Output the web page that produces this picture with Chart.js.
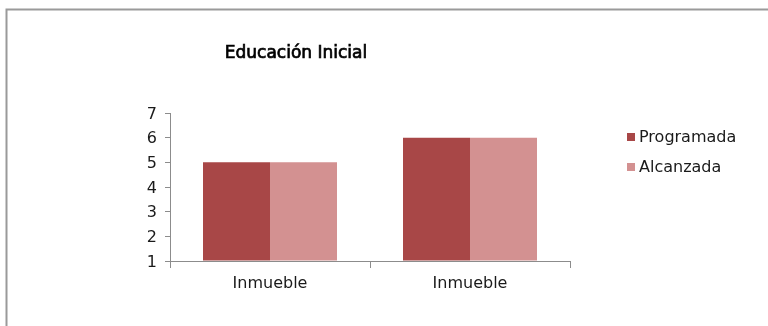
<!DOCTYPE html>
<html>
<head>
<meta charset="utf-8">
<script src="https://cdn.jsdelivr.net/npm/chart.js@4/dist/chart.umd.min.js"></script>
<style>
  html, body { margin: 0; padding: 0; background: #fff; }
  #wrap { width: 768px; height: 326px; }
</style>
</head>
<body>
<div id="wrap"><canvas id="myChart" width="768" height="326"></canvas></div>
<script>
// Data
const chartTitle = "Educación Inicial";
const categories = ["Inmueble", "Inmueble"];
const programada = [5, 6];
const alcanzada = [5, 6];
const yTicks = [1, 2, 3, 4, 5, 6, 7];

const seriesNames = ["Programada", "Alcanzada"];
const seriesColors = ["#A84747", "#D39191"];

const textColor = "#1a1a1a";
const axisColor = "#8c8c8c";
const font = "DejaVu Sans";

// frame, title and legend drawn by hand
const decorPlugin = {
  id: "decor",
  beforeDraw(chart) {
    const c = chart.ctx;
    c.save();
    c.strokeStyle = "#9a9a9a";
    c.lineWidth = 2;
    c.beginPath();
    c.moveTo(768, 9.5);
    c.lineTo(6.5, 9.5);
    c.lineTo(6.5, 326);
    c.stroke();
    c.restore();
  },
  afterDraw(chart) {
    const c = chart.ctx;
    c.save();
    // title
    c.fillStyle = "#000";
    c.strokeStyle = "#000";
    c.lineWidth = 0.7;
    c.font = "17px '" + font + "'";
    c.textAlign = "center";
    c.textBaseline = "middle";
    c.fillText(chartTitle, 296, 54);
    c.strokeText(chartTitle, 296, 54);

    // legend
    c.font = "16px '" + font + "'";
    c.textAlign = "left";
    chart.data.datasets.forEach((ds, i) => {
      const y = 137 + i * 30;
      c.fillStyle = ds.backgroundColor;
      c.fillRect(627, y - 4, 8, 8);
      c.fillStyle = textColor;
      c.fillText(ds.label, 639, y + 1);
    });
    c.restore();
  },
};

const ctx = document.getElementById("myChart").getContext("2d");
new Chart(ctx, {
  type: "bar",
  data: {
    labels: categories,
    datasets: [
      { label: seriesNames[0], data: programada, backgroundColor: seriesColors[0] },
      { label: seriesNames[1], data: alcanzada, backgroundColor: seriesColors[1] },
    ],
  },
  options: {
    responsive: false,
    animation: false,
    categoryPercentage: 0.67,
    barPercentage: 1.0,
    base: 1,
    layout: { padding: { left: 0, top: 113, right: 198, bottom: 0 } },
    plugins: {
      legend: { display: false },
      title: { display: false },
      tooltip: { enabled: false },
    },
    scales: {
      x: {
        offset: true,
        afterFit(scale) { scale.height = 65; },
        grid: {
          offset: true,
          drawOnChartArea: false,
          drawTicks: true,
          tickLength: 7,
          color: axisColor,
        },
        border: { color: axisColor, width: 1 },
        ticks: {
          color: textColor,
          font: { family: font, size: 16 },
          padding: 6,
        },
      },
      y: {
        min: yTicks[0],
        max: yTicks[yTicks.length - 1],
        afterFit(scale) { scale.width = 170; },
        afterBuildTicks(scale) { scale.ticks = yTicks.map((v) => ({ value: v })); },
        grid: {
          drawOnChartArea: false,
          drawTicks: true,
          tickLength: 5,
          color: axisColor,
        },
        border: { color: axisColor, width: 1 },
        ticks: {
          color: textColor,
          font: { family: font, size: 16 },
          padding: 8,
          labelOffset: 1.5,
        },
      },
    },
  },
  plugins: [decorPlugin],
});
</script>
</body>
</html>
